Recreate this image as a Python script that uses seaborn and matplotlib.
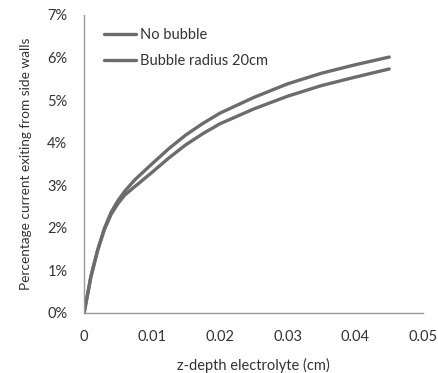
import numpy as np
import pandas as pd
import matplotlib
matplotlib.use('Agg')
import matplotlib.pyplot as plt
import seaborn as sns
from matplotlib.ticker import PercentFormatter

# values (percent)
depth = [0, 0.001, 0.002, 0.003, 0.004, 0.005, 0.006, 0.0075, 0.01, 0.0125,
         0.015, 0.0175, 0.02, 0.025, 0.03, 0.035, 0.04, 0.045]
no_bubble = [0, 0.85, 1.47, 1.96, 2.32, 2.57, 2.77, 2.97, 3.3, 3.64,
             3.95, 4.21, 4.44, 4.79, 5.09, 5.34, 5.54, 5.73]
bubble_20cm = [0, 0.85, 1.48, 1.99, 2.37, 2.64, 2.86, 3.13, 3.5, 3.86,
               4.18, 4.45, 4.69, 5.06, 5.38, 5.63, 5.83, 6.01]
labels = ['No bubble', 'Bubble radius 20cm']

df = pd.DataFrame({
    'depth': depth * 2,
    'pct': no_bubble + bubble_20cm,
    'series': [labels[0]] * len(depth) + [labels[1]] * len(depth),
})

sns.set_style('white')
plt.rcParams['font.family'] = ['Lato', 'DejaVu Sans']

fig = plt.figure(figsize=(4.38, 3.73), dpi=100)
ax = fig.add_axes([0.192, 0.161, 0.774, 0.799])

sns.lineplot(data=df, x='depth', y='pct', hue='series', hue_order=labels,
             palette=['#6c6c6c', '#6c6c6c'], linewidth=2.4, ax=ax)

ax.set_xlim(0, 0.05)
ax.set_ylim(0, 7)
ax.set_xticks([0, 0.01, 0.02, 0.03, 0.04, 0.05])
ax.set_xticklabels(['0', '0.01', '0.02', '0.03', '0.04', '0.05'])
ax.set_yticks(range(0, 8))
ax.yaxis.set_major_formatter(PercentFormatter(decimals=0))

ax.set_xlabel('z-depth electrolyte (cm)', fontsize=10.5, color='#333333', labelpad=10)
ax.set_ylabel('Percentage current exiting from side walls', fontsize=9.8,
              color='#333333', labelpad=11)
ax.tick_params(axis='both', labelsize=10.5, colors='#333333', length=4,
               width=0.8, direction='out', pad=8)
ax.tick_params(axis='x', color='#999999')
ax.tick_params(axis='y', color='#999999')

sns.despine(ax=ax)
for s in ['left', 'bottom']:
    ax.spines[s].set_color('#999999')
    ax.spines[s].set_linewidth(1.0)

ax.legend(frameon=False, loc='upper left', bbox_to_anchor=(0.02, 1.0),
          handlelength=2.2, handletextpad=0.3, labelspacing=0.85,
          fontsize=10.5, labelcolor='#333333')

fig.savefig('out.png', dpi=100)
